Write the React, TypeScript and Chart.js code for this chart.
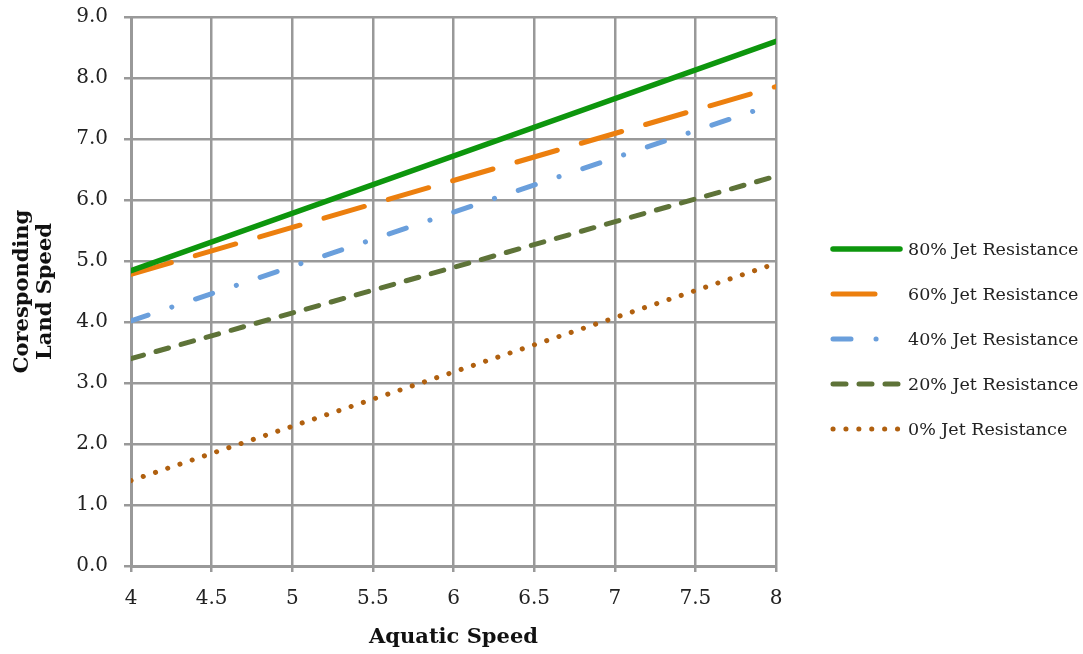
import React, { useEffect, useRef } from "react";
import { Chart, registerables } from "chart.js";

Chart.register(...registerables);

const seriesLabels = [
  "80% Jet Resistance",
  "60% Jet Resistance",
  "40% Jet Resistance",
  "20% Jet Resistance",
  "0% Jet Resistance",
];
const aquaticSpeed = [4, 8];
const jet80 = [4.84, 8.6];
const jet60 = [4.78, 7.86];
const jet40 = [4.02, 7.58];
const jet20 = [3.4, 6.39];
const jet0 = [1.4, 4.96];
const xTicks = [4, 4.5, 5, 5.5, 6, 6.5, 7, 7.5, 8];
const yTicks = [0, 1, 2, 3, 4, 5, 6, 7, 8, 9];

const colors = ["#0d960d", "#ec7f0e", "#6a9fdc", "#5e7338", "#b0600f"];
const widths = [5.5, 5, 5, 5, 5];
const dashes: number[][] = [[], [42, 25], [18, 25, 0.1, 25], [13, 13], [0.1, 12.8]];
const FONT = "'DejaVu Serif', 'Liberation Serif', serif";

const legendPlugin = {
  id: "sideLegend",
  afterDraw(chart: any) {
    const ctx = chart.ctx as CanvasRenderingContext2D;
    const ds = chart.data.datasets;
    ds.forEach((d: any, i: number) => {
      const y = 249 + i * 45;
      ctx.save();
      ctx.beginPath();
      ctx.strokeStyle = d.borderColor;
      ctx.lineWidth = d.borderWidth;
      ctx.lineCap = "round";
      ctx.lineDashOffset = 0;
      ctx.setLineDash(d.borderDash || []);
      ctx.moveTo(833, y);
      ctx.lineTo(900, y);
      ctx.stroke();
      ctx.restore();
      ctx.save();
      ctx.setLineDash([]);
      ctx.fillStyle = "#222";
      ctx.font = `17.5px ${FONT}`;
      ctx.textBaseline = "middle";
      ctx.textAlign = "left";
      ctx.fillText(d.label, 908, y + 1);
      ctx.restore();
    });
  },
};

const bgPlugin = {
  id: "bg",
  beforeDraw(chart: any) {
    const ctx = chart.ctx;
    ctx.save();
    ctx.fillStyle = "#fff";
    ctx.fillRect(0, 0, chart.width, chart.height);
    ctx.restore();
  },
};

export default function App() {
  const ref = useRef<HTMLCanvasElement>(null);
  useEffect(() => {
    const values = [jet80, jet60, jet40, jet20, jet0];
    const chart = new Chart(ref.current!, {
      type: "line",
      data: {
        datasets: values.map((v, i) => ({
          label: seriesLabels[i],
          data: aquaticSpeed.map((x, j) => ({ x, y: v[j] })),
          borderColor: colors[i],
          backgroundColor: colors[i],
          borderWidth: widths[i],
          borderDash: dashes[i],
          borderCapStyle: "round" as const,
          pointRadius: 0,
          tension: 0,
        })),
      },
      options: {
        responsive: false,
        animation: false,
        devicePixelRatio: 1,
        layout: { padding: { top: 17, right: 307, bottom: 0, left: 0 } },
        plugins: { legend: { display: false }, tooltip: { enabled: false } },
        scales: {
          x: {
            type: "linear",
            min: 4,
            max: 8,
            afterBuildTicks: (s: any) => {
              s.ticks = xTicks.map((v) => ({ value: v }));
            },
            afterFit: (s: any) => {
              s.height = 88;
              s.paddingLeft = 0;
              s.paddingRight = 0;
            },
            ticks: {
              font: { family: FONT, size: 20 },
              color: "#222",
              padding: 15,
              maxRotation: 0,
              callback: (v: any) => String(v),
            },
            grid: { color: "#999", lineWidth: 2.5, tickLength: 6 },
            border: { color: "#999", width: 3 },
            title: {
              display: true,
              text: "Aquatic Speed",
              font: { family: FONT, size: 21, weight: "bold" },
              color: "#111",
              padding: { top: 0, bottom: 4 },
            },
          },
          y: {
            min: 0,
            max: 9,
            afterBuildTicks: (s: any) => {
              s.ticks = yTicks.map((v) => ({ value: v }));
            },
            afterFit: (s: any) => {
              s.width = 131;
              s.paddingTop = 0;
              s.paddingBottom = 0;
            },
            ticks: {
              font: { family: FONT, size: 20 },
              color: "#222",
              padding: 16,
              callback: (v: any) => Number(v).toFixed(1),
            },
            grid: { color: "#999", lineWidth: 2.5, tickLength: 7 },
            border: { color: "#999", width: 3 },
            title: {
              display: true,
              text: ["Coresponding", "Land Speed"],
              font: { family: FONT, size: 21, weight: "bold", lineHeight: 1.1 },
              color: "#111",
              padding: { top: 11, bottom: 0 },
            },
          },
        },
      },
      plugins: [bgPlugin, legendPlugin],
    });
    return () => chart.destroy();
  }, []);
  return (
    <div style={{ position: "fixed", left: 0, top: 0, width: 1083, height: 654, background: "#fff" }}>
      <canvas ref={ref} width={1083} height={654} />
    </div>
  );
}
